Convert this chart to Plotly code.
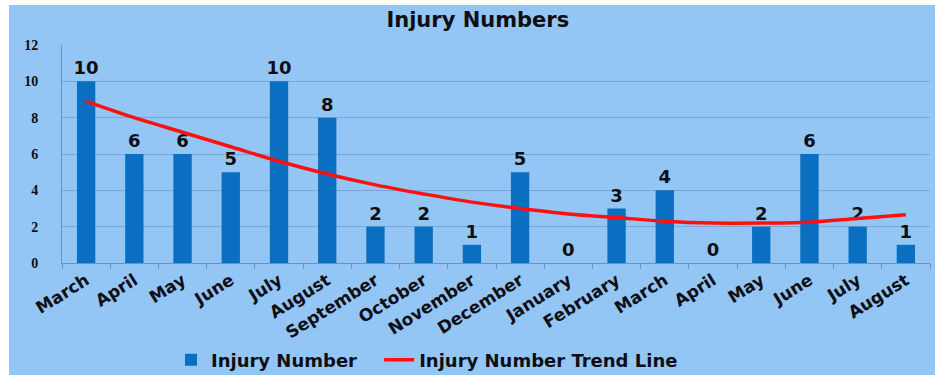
import plotly.graph_objects as go

months = ["March", "April", "May", "June", "July", "August", "September", "October",
          "November", "December", "January", "February", "March", "April", "May",
          "June", "July", "August"]
injuries = [10, 6, 6, 5, 10, 8, 2, 2, 1, 5, 0, 3, 4, 0, 2, 6, 2, 1]
trend = [8.9, 8.0, 7.2, 6.4, 5.6, 4.9, 4.3, 3.8, 3.35, 3.0, 2.7, 2.5, 2.3, 2.2,
         2.2, 2.25, 2.45, 2.65]
y_ticks = [0, 2, 4, 6, 8, 10, 12]

# unique category keys so repeated month names stay separate
keys = list(range(len(months)))

BG = "#93C6F5"
BAR = "#0A6FC0"
FONT = "DejaVu Sans"
INK = "#0E0E14"

fig = go.Figure()
fig.add_trace(go.Bar(
    x=keys, y=injuries, name="<b>Injury Number</b>&nbsp;&nbsp;&nbsp;",
    marker=dict(color=BAR, line=dict(width=0)),
    text=["<b>%d</b>" % v for v in injuries], textposition="outside",
    textfont=dict(family=FONT, size=18, color=INK),
    constraintext="none", cliponaxis=False,
))
fig.add_trace(go.Scatter(
    x=keys, y=trend, name="<b>Injury Number Trend Line</b>", mode="lines",
    line=dict(color="#FF1010", width=3.5, shape="spline"),
))

fig.update_layout(
    width=935, height=375,
    margin=dict(l=62, r=5, t=45, b=112, autoexpand=False),
    paper_bgcolor="white", plot_bgcolor="rgba(0,0,0,0)",
    bargap=0.62,
    title=dict(text="<b>Injury Numbers</b>", x=0.511, xanchor="center", y=0.947, yanchor="middle",
               font=dict(family=FONT, size=21, color=INK)),
    showlegend=True,
    legend=dict(orientation="h", x=(171 - 62) / 868, xanchor="left",
                y=(263 - 360) / 218, yanchor="middle",
                font=dict(family=FONT, size=18, color=INK),
                bgcolor="rgba(0,0,0,0)", itemwidth=30, traceorder="normal"),
    shapes=[dict(type="rect", xref="paper", yref="paper", layer="below",
                 x0=(9 - 62) / 868, x1=(935 - 62) / 868,
                 y0=(263 - 375) / 218, y1=(263 - 5) / 218,
                 fillcolor=BG, line=dict(width=0))],
)
fig.update_xaxes(
    type="category", tickmode="array", tickvals=keys,
    ticktext=["<b>%s</b>" % m for m in months], tickangle=-32,
    tickfont=dict(family=FONT, size=17, color=INK),
    showline=True, linecolor="#6F93B8", linewidth=1,
    ticks="outside", tickson="boundaries", ticklen=5, tickcolor="#6F93B8",
    showgrid=False, range=[-0.5, len(months) - 0.5], automargin=False,
)
fig.update_yaxes(
    range=[0, 12], tickmode="array", tickvals=y_ticks,
    ticktext=["<b>%d</b>" % v for v in y_ticks],
    tickfont=dict(family="Liberation Serif", size=14, color=INK),
    showgrid=True, gridcolor="#79A6D4", gridwidth=1.2,
    showline=True, linecolor="#6F93B8", linewidth=1,
    ticks="", zeroline=False, automargin=False, ticklabelstandoff=20,
)

fig.write_html("out.html")
